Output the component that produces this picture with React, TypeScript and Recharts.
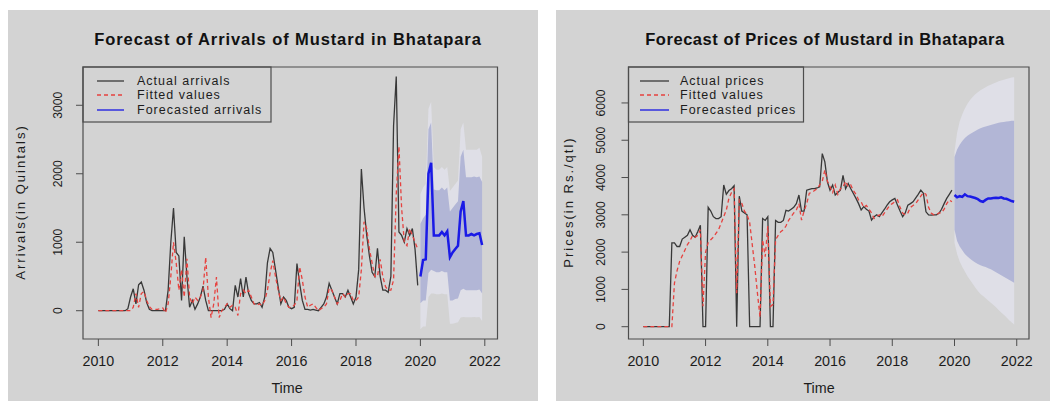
import { Area, ComposedChart, Line, ReferenceArea, XAxis, YAxis } from 'recharts'

// axis ticks
const yearTicks = [2010, 2012, 2014, 2016, 2018, 2020, 2022]
const arrivalTicks = [0, 1000, 2000, 3000]
const priceTicks = [0, 1000, 2000, 3000, 4000, 5000, 6000]

// monthly observations, Jan 2010 .. Dec 2019
const arrivalsActual = [
  0, 0, 0, 0, 0, 0, 0, 0, 0, 0, 0, 30,
  200, 320, 100, 380, 420, 300, 120, 20, 0, 0, 0, 0,
  0, 0, 300, 1000, 1500, 850, 800, 150, 1080, 500, 50, 150,
  20, 100, 200, 360, 150, 0, 0, 0, 0, 0, 0, 20,
  100, 30, 0, 370, 200, 470, 200, 490, 250, 150, 100, 100,
  120, 50, 200, 700, 910, 850, 600, 350, 100, 200, 150, 50,
  30, 50, 690, 400, 150, 20, 20, 10, 20, 10, 0, 50,
  100, 200, 400, 300, 200, 100, 250, 250, 200, 300, 200, 100,
  200, 600, 2070, 1500, 1100, 800, 560, 500, 910, 500, 300, 300,
  270, 500, 2700, 3420, 1150, 1100, 1000, 1200, 1100, 1200, 900, 370,
]
const arrivalsFitted = [
  0, 0, 0, 0, 0, 0, 0, 0, 0, 0, 0, 0,
  0, 50, 250, 50, 250, 280, 150, 60, 20, 20, 20, 30,
  40, -30, 100, 500, 1000, 700, 300, 600, 200, 760, 200, 100,
  200, 150, 200, 300, 780, 200, -100, 100, 490, -100, 0, 50,
  100, 50, 80, 50, -70, 250, 300, 250, 300, 200, 100, 80,
  100, 80, 150, 300, 550, 730, 500, 300, 150, 200, 100, 50,
  50, 80, 150, 640, 450, 200, 50, 80, 100, 50, 0, 30,
  50, 100, 330, 300, 200, 100, 150, 250, 200, 250, 250, 150,
  150, 200, 600, 1300, 1200, 900, 700, 500, 500, 750, 500, 350,
  300, 300, 450, 1700, 2400, 1500, 1000, 950, 1200, 1100, 1000, 900,
]
// forecast, Jan 2020 .. Dec 2021
const arrivalsForecast = [500, 740, 750, 2000, 2160, 1100, 1100, 1100, 1150, 1100, 1160, 780, 850, 900, 950, 1450, 1600, 1100, 1100, 1120, 1100, 1120, 1130, 960]
const arrivalsHi95 = [1700, 1800, 1850, 2950, 3050, 2100, 2060, 2060, 2100, 2060, 2100, 1750, 1800, 1850, 1900, 2650, 2750, 2350, 2350, 2350, 2350, 2350, 2380, 2250]
const arrivalsHi80 = [1270, 1350, 1400, 2650, 2750, 1770, 1760, 1760, 1800, 1760, 1800, 1450, 1500, 1550, 1600, 2250, 2350, 1950, 1950, 1950, 1960, 1950, 1960, 1880]
const arrivalsLo80 = [110, 150, 150, 550, 600, 580, 560, 560, 580, 560, 560, 150, 150, 170, 180, 300, 320, 300, 300, 300, 300, 300, 310, 250]
const arrivalsLo95 = [-270, -230, -230, 200, 250, 250, 240, 240, 250, 240, 240, -190, -190, -180, -170, -100, -90, -95, -95, -95, -90, -95, -90, -150]

const pricesActual = [
  0, 0, 0, 0, 0, 0, 0, 0, 0, 0, 0, 2250,
  2250, 2150, 2150, 2350, 2400, 2450, 2600, 2450, 2400, 2550, 2720, 0,
  0, 3200, 3100, 2950, 2900, 2900, 2950, 3800, 3550, 3650, 3700, 3780,
  0, 3500, 3100, 3050, 3000, 0, 0, 0, 0, 0, 2900, 2850,
  2950, 0, 0, 2850, 2800, 2800, 2850, 3120, 3100, 3150, 3200, 3300,
  3530, 3100, 3100, 3660, 3680, 3700, 3700, 3720, 3750, 4640, 4420, 3880,
  3660, 3800, 3530, 3600, 3660, 4060, 3700, 3840, 3700, 3570, 3440, 3300,
  3130, 3220, 3150, 3100, 2860, 2950, 3000, 2950, 3050, 3150, 3260, 3350,
  3400, 3440, 3260, 3100, 2950, 3050, 3260, 3300, 3350, 3450, 3550, 3660,
  3580, 3080, 3000, 2990, 3000, 3000, 3040, 3150, 3300, 3440, 3550, 3660,
]
const pricesFitted = [
  0, 0, 0, 0, 0, 0, 0, 0, 0, 0, 0, 0,
  1170, 1500, 1750, 1900, 2050, 2200, 2300, 2450, 2400, 2450, 2600, 550,
  2000, 2250, 2330, 2400, 2500, 2600, 2770, 2950, 3130, 3440, 3600, 3700,
  900, 3400, 3300, 3100, 3000, 2800, 2200, 1600, 900, 250, 2330, 1880,
  2700, 540, 600, 2330, 2450, 2550, 2600, 2700, 2850, 2950, 3050, 3130,
  3300, 2860, 3100, 3300, 3580, 3600, 3650, 3700, 3800, 3900, 4200, 3900,
  3750, 3600, 3800, 3550, 3700, 3750, 3900, 3750, 3800, 3650, 3550, 3400,
  3350, 3200, 3250, 3150, 3050, 2900, 2950, 3000, 2950, 3050, 3150, 3250,
  3300, 3350, 3400, 3200, 3050, 3000, 3050, 3200, 3250, 3300, 3400, 3500,
  3600, 3550, 3200, 3050, 3000, 3000, 3050, 3050, 3150, 3300, 3400, 3350,
]
const pricesForecast = [3530, 3470, 3500, 3480, 3550, 3500, 3490, 3470, 3450, 3420, 3370, 3350, 3400, 3440, 3440, 3450, 3460, 3450, 3470, 3440, 3430, 3400, 3370, 3350]
const pricesHi95 = [4700, 5200, 5500, 5700, 5850, 5980, 6080, 6160, 6230, 6290, 6340, 6380, 6420, 6460, 6490, 6520, 6550, 6580, 6600, 6620, 6640, 6660, 6680, 6690]
const pricesHi80 = [4550, 4750, 4880, 4980, 5060, 5120, 5170, 5210, 5250, 5290, 5320, 5350, 5370, 5390, 5410, 5430, 5450, 5470, 5480, 5490, 5500, 5510, 5520, 5520]
const pricesLo80 = [2600, 2300, 2150, 2050, 1950, 1880, 1820, 1770, 1720, 1680, 1650, 1620, 1600, 1570, 1540, 1500, 1460, 1420, 1380, 1340, 1300, 1260, 1220, 1180]
const pricesLo95 = [2250, 1950, 1750, 1600, 1480, 1350, 1250, 1150, 1050, 960, 880, 820, 760, 700, 640, 580, 520, 450, 380, 320, 250, 180, 120, 60]

const FONT = '"Liberation Sans", Arial, Helvetica, sans-serif'
const PANEL = '#d3d3d3'
const BOX = '#4d4d4d'
const TEXT = '#1c1c1c'
const ACTUAL = '#383838'
const FITTED = '#e6423f'
const FORECAST = '#1a1ae6'
const BAND95 = '#dfdfe7'
const BAND80 = '#b2b6d6'
const X_DOMAIN: [number, number] = [2009.523, 2022.394]

const buildRows = (
  actual: number[], fitted: number[], fc: number[],
  lo80: number[], hi80: number[], lo95: number[], hi95: number[],
) =>
  [...actual, ...fc].map((_, i) => {
    const t = 2010 + i / 12
    if (i < actual.length) {
      return { t, actual: actual[i], fitted: fitted[i], forecast: null, band80: null, band95: null }
    }
    const j = i - actual.length
    return { t, actual: null, fitted: null, forecast: fc[j], band80: [lo80[j], hi80[j]], band95: [lo95[j], hi95[j]] }
  })

const arrivalRows = buildRows(arrivalsActual, arrivalsFitted, arrivalsForecast, arrivalsLo80, arrivalsHi80, arrivalsLo95, arrivalsHi95)
const priceRows = buildRows(pricesActual, pricesFitted, pricesForecast, pricesLo80, pricesHi80, pricesLo95, pricesHi95)

const XTick = ({ x, y, payload }: any) => (
  <text x={x} y={y + 17.5} textAnchor="middle" fontSize={14.3} fontFamily={FONT} fill={TEXT}>
    {payload.value}
  </text>
)

const makeYTick = (gap: number) => ({ x, y, payload }: any) => (
  <text
    x={x - gap}
    y={y}
    transform={`rotate(-90 ${x - gap} ${y})`}
    textAnchor="middle"
    dominantBaseline="central"
    fontSize={12.2}
    fontFamily={FONT}
    fill={TEXT}
  >
    {payload.value}
  </text>
)

interface Geometry {
  left: number
  width: number
  plotLeft: number
  plotRight: number
  legendWidth: number
  lineFrom: number
  lineTo: number
  textX: number
  titleX: number
  titleSpacing: number
  timeX: number
  tickGap: number
}

interface Props {
  rows: ReturnType<typeof buildRows>
  title: string
  yLabel: string
  labels: string[]
  yDomain: [number, number]
  yTicks: number[]
  geo: Geometry
}

const HEIGHT = 391
const PLOT_TOP = 57
const PLOT_BOTTOM = 329

const ForecastPanel = ({ rows, title, yLabel, labels, yDomain, yTicks, geo }: Props) => {
  const rowY = [PLOT_TOP + 14, PLOT_TOP + 28, PLOT_TOP + 43]
  return (
    <div style={{ position: 'absolute', left: geo.left, top: 10, width: geo.width, height: HEIGHT, background: PANEL }}>
      <ComposedChart
        width={geo.width}
        height={HEIGHT}
        data={rows}
        margin={{ top: PLOT_TOP, right: geo.width - geo.plotRight, bottom: 0, left: 0 }}
      >
        <XAxis
          dataKey="t"
          type="number"
          domain={X_DOMAIN}
          ticks={yearTicks}
          interval={0}
          allowDataOverflow
          axisLine={false}
          tickLine={{ stroke: BOX }}
          tickSize={7}
          height={HEIGHT - PLOT_BOTTOM}
          tick={XTick}
        />
        <YAxis
          type="number"
          domain={yDomain}
          ticks={yTicks}
          interval={0}
          allowDataOverflow
          axisLine={false}
          tickLine={{ stroke: BOX }}
          tickSize={7}
          width={geo.plotLeft}
          tick={makeYTick(geo.tickGap)}
        />
        <Area dataKey="band95" type="linear" stroke="none" fill={BAND95} fillOpacity={1} activeDot={false} isAnimationActive={false} />
        <Area dataKey="band80" type="linear" stroke="none" fill={BAND80} fillOpacity={1} activeDot={false} isAnimationActive={false} />
        <Line dataKey="actual" type="linear" stroke={ACTUAL} strokeWidth={1.3} dot={false} activeDot={false} isAnimationActive={false} />
        <Line dataKey="fitted" type="linear" stroke={FITTED} strokeWidth={1.3} strokeDasharray="4 3" dot={false} activeDot={false} isAnimationActive={false} />
        <Line dataKey="forecast" type="linear" stroke={FORECAST} strokeWidth={2.5} dot={false} activeDot={false} isAnimationActive={false} />
        <ReferenceArea x1={X_DOMAIN[0]} x2={X_DOMAIN[1]} y1={yDomain[0]} y2={yDomain[1]} fill="none" stroke={BOX} strokeWidth={1.2} ifOverflow="visible" />
      </ComposedChart>
      <svg
        width={geo.width}
        height={HEIGHT}
        style={{ position: 'absolute', left: 0, top: 0, pointerEvents: 'none' }}
        fontFamily={FONT}
      >
        <text x={geo.titleX} y={29} textAnchor="middle" dominantBaseline="central" fontWeight="bold" fontSize={16.5} letterSpacing={geo.titleSpacing} fill="#111">
          {title}
        </text>
        <text x={geo.timeX} y={378} textAnchor="middle" dominantBaseline="central" fontSize={14.3} fill={TEXT}>
          Time
        </text>
        <text x={12} y={192} transform="rotate(-90 12 192)" textAnchor="middle" dominantBaseline="central" fontSize={13} letterSpacing={2} fill={TEXT}>
          {yLabel}
        </text>
        <rect x={geo.plotLeft} y={PLOT_TOP} width={geo.legendWidth} height={55} fill="none" stroke={BOX} strokeWidth={1.2} />
        <line x1={geo.lineFrom} x2={geo.lineTo} y1={rowY[0]} y2={rowY[0]} stroke={ACTUAL} strokeWidth={1.3} />
        <line x1={geo.lineFrom} x2={geo.lineTo} y1={rowY[1]} y2={rowY[1]} stroke={FITTED} strokeWidth={1.6} strokeDasharray="4 3" />
        <line x1={geo.lineFrom} x2={geo.lineTo} y1={rowY[2]} y2={rowY[2]} stroke="#3a3ae0" strokeWidth={1.6} />
        {labels.map((label, i) => (
          <text key={label} x={geo.textX} y={rowY[i]} dominantBaseline="central" fontSize={12.5} letterSpacing={1} fill={TEXT}>
            {label}
          </text>
        ))}
      </svg>
    </div>
  )
}

const leftGeo: Geometry = {
  left: 8, width: 530, plotLeft: 75, plotRight: 489.5, legendWidth: 188,
  lineFrom: 89, lineTo: 116, textX: 129, titleX: 280, titleSpacing: 0.9, timeX: 279, tickGap: 15.7,
}
const rightGeo: Geometry = {
  left: 556, width: 494, plotLeft: 72.5, plotRight: 473, legendWidth: 175,
  lineFrom: 84, lineTo: 113, textX: 124, titleX: 269, titleSpacing: 0.55, timeX: 263, tickGap: 18,
}

const App = () => (
  <div>
    <ForecastPanel
      rows={arrivalRows}
      title="Forecast of Arrivals of Mustard in Bhatapara"
      yLabel="Arrivals(in Quintals)"
      labels={['Actual arrivals', 'Fitted values', 'Forecasted arrivals']}
      yDomain={[-413, 3559]}
      yTicks={arrivalTicks}
      geo={leftGeo}
    />
    <ForecastPanel
      rows={priceRows}
      title="Forecast of Prices of Mustard in Bhatapara"
      yLabel="Prices(in Rs./qtl)"
      labels={['Actual prices', 'Fitted values', 'Forecasted prices']}
      yDomain={[-330, 6964]}
      yTicks={priceTicks}
      geo={rightGeo}
    />
  </div>
)

export default App
